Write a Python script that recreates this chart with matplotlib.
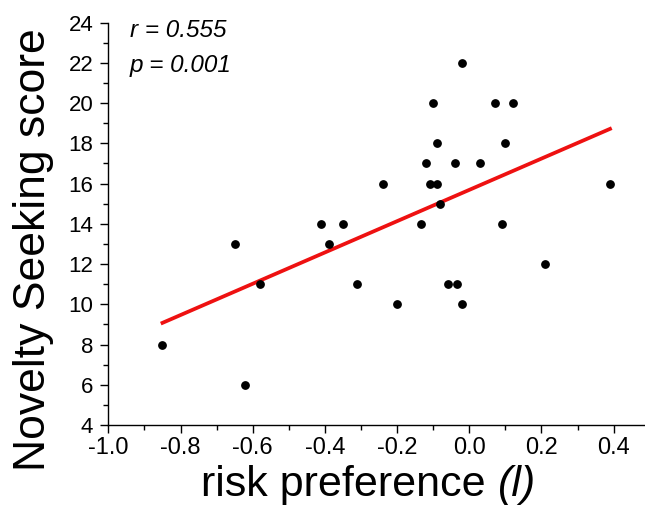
import numpy as np
import matplotlib
matplotlib.use('Agg')
import matplotlib.pyplot as plt
from matplotlib.ticker import MultipleLocator

plt.rcParams['font.family'] = ['Liberation Sans', 'DejaVu Sans']

# risk preference (l) vs novelty seeking score
risk_pref = [-0.02, -0.10, 0.07, 0.12, -0.09, 0.10, -0.12, -0.04, 0.03,
             -0.24, -0.11, -0.09, 0.39, -0.08, -0.41, -0.35, -0.135, 0.09,
             -0.65, -0.39, -0.58, -0.31, -0.06, -0.035, -0.20, -0.02, 0.21,
             -0.85, -0.62]
novelty = [22, 20, 20, 20, 18, 18, 17, 17, 17,
           16, 16, 16, 16, 15, 14, 14, 14, 14,
           13, 13, 11, 11, 11, 11, 10, 10, 12,
           8, 6]
stats_text = ['r = 0.555', 'p = 0.001']

W, H = 645, 508

x = np.array(risk_pref)
y = np.array(novelty)
slope, intercept = np.polyfit(x, y, 1)
line_x = np.array([x.min(), x.max()])

fig = plt.figure(figsize=(W / 100, H / 100), dpi=100)
ax = fig.add_axes([0.168, 0.1634, 0.832, 0.792])

ax.scatter(x, y, s=28, color='black', zorder=3)
ax.plot(line_x, slope * line_x + intercept, color='#ee1111', lw=2.7, zorder=2)

ax.set_xlim(-1.0, 0.487)
ax.set_ylim(4, 24)
ax.xaxis.set_minor_locator(MultipleLocator(0.1))
ax.yaxis.set_major_locator(MultipleLocator(2))
ax.yaxis.set_minor_locator(MultipleLocator(1))
ax.set_xticks(np.arange(-1.0, 0.41, 0.2))
ax.xaxis.set_major_formatter(plt.FuncFormatter(lambda v, p: f'{v:.1f}'.replace('-0.0', '0.0')))

for side in ['top', 'right']:
    ax.spines[side].set_visible(False)
for side in ['left', 'bottom']:
    ax.spines[side].set_linewidth(1.0)

ax.tick_params(which='major', direction='out', length=5.8, width=1)
ax.tick_params(which='minor', direction='out', length=3.6, width=1)
ax.tick_params(axis='x', which='major', labelsize=17, pad=3)
ax.tick_params(axis='y', which='major', labelsize=16, pad=5)

ax.set_ylabel('Novelty Seeking score', fontsize=32)
ax.yaxis.set_label_coords(-0.101, 0.435)

# x label in two pieces so the "(l)" is fully italic
base_y = 1 - 496 / H
part1 = fig.text(0, base_y, 'risk preference ', fontsize=31, va='baseline', ha='left')
part2 = fig.text(0, base_y, '(l)', fontsize=31, style='italic', va='baseline', ha='left')
fig.canvas.draw()
renderer = fig.canvas.get_renderer()
w1 = part1.get_window_extent(renderer).width
w2 = part2.get_window_extent(renderer).width
start = 368.5 - (w1 + w2) / 2
part1.set_x(start / W)
part2.set_x((start + w1) / W)

fig.text(130 / W, 1 - 36.7 / H, stats_text[0], fontsize=17.5,
         style='italic', va='baseline', ha='left')
fig.text(130 / W, 1 - 72 / H, stats_text[1], fontsize=17.5,
         style='italic', va='baseline', ha='left')

fig.savefig('out.png', dpi=100)
